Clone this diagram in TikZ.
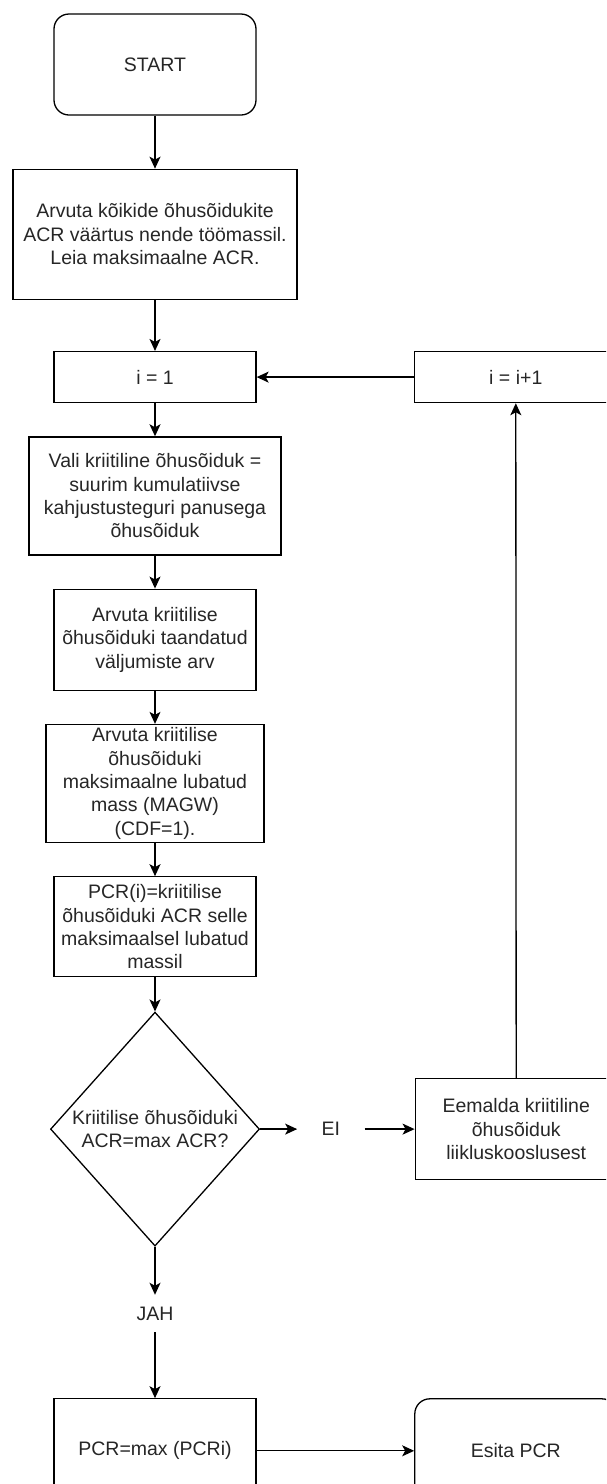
\documentclass[tikz,border=0pt]{standalone}
\usepackage{fontspec}
\setmainfont{Liberation Sans}
\usepackage{tikz}
\usetikzlibrary{arrows.meta, positioning, shapes.geometric}

\begin{document}
\begin{tikzpicture}[
  x=1pt, y=-1pt,
  font=\fontsize{19.5}{23.3}\selectfont,
  box/.style      = {rectangle, draw, line width=1.3pt, text=black!85,
                     minimum width=202pt, align=center, inner sep=2pt},
  term/.style     = {box, rounded corners=15pt},
  decision/.style = {diamond, draw, line width=1.3pt, inner sep=0pt,
                     minimum width=209pt, minimum height=234pt},
  lbl/.style      = {align=center, inner sep=0pt, text=black!85},
  arr/.style      = {-{Stealth[length=12pt, width=11pt, inset=3pt]}, line width=1.3pt},
]
\useasboundingbox (0,0) rectangle (606,1484);
\clip (0,0) rectangle (606,1484);

\node[term, minimum height=101pt] (start) at (155,64.5) {START};
\node[box, below=53pt of start, minimum width=284pt, minimum height=130pt] (acr)
  {Arvuta kõikide õhusõidukite\\ACR väärtus nende töömassil.\\Leia maksimaalne ACR.};
\node[box, below=51pt of acr, minimum height=51pt] (init) {i = 1};
\node[box, below=33pt of init, minimum width=252pt, minimum height=118pt] (crit)
  {Vali kriitiline õhusõiduk =\\suurim kumulatiivse\\kahjustusteguri panusega\\õhusõiduk};
\node[box, below=33pt of crit, minimum height=101pt] (dep)
  {Arvuta kriitilise\\õhusõiduki taandatud\\väljumiste arv};
\node[box, below=33pt of dep, minimum width=218pt, minimum height=118pt] (magw)
  {Arvuta kriitilise\\õhusõiduki\\maksimaalne lubatud\\mass (MAGW)\\(CDF=1).};
\node[box, below=33pt of magw, minimum height=100pt] (pcri)
  {PCR(i)=kriitilise\\õhusõiduki ACR selle\\maksimaalsel lubatud\\massil};
\node[decision, below=34pt of pcri,
      label={[lbl]center:Kriitilise õhusõiduki\\ACR=max ACR?}] (check) {};
\node[lbl, right=37pt of check, minimum width=67pt, minimum height=30pt] (no) {EI};
\node[box, right=50pt of no, minimum height=101pt] (remove)
  {Eemalda kriitiline\\õhusõiduk\\liikluskooslusest};
\node[box, right=157.5pt of init, minimum height=51pt] (incr) {i = i+1};
\node[lbl, below=48pt of check, minimum width=60pt, minimum height=37pt] (yes) {JAH};
\node[box, below=66pt of yes, minimum height=104pt] (pcrmax) {PCR=max (PCRi)};
\node[term, right=157.5pt of pcrmax, minimum height=104pt] (result) {Esita PCR};

\draw[arr] (start) -- (acr);
\draw[arr] (acr)   -- (init);
\draw[arr] (init)  -- (crit);
\draw[arr] (crit)  -- (dep);
\draw[arr] (dep)   -- (magw);
\draw[arr] (magw)  -- (pcri);
\draw[arr] (pcri.south) -- (check.north);
\draw[arr] (check.east) -- (no);
\draw[arr] (no)    -- (remove);
\draw[arr] (remove) -- (incr);
\draw[arr] (incr)  -- (init);
\draw[arr] (check.south) -- (yes);
\draw[arr] (yes)   -- (pcrmax);
\draw[arr] (pcrmax) -- (result);

\end{tikzpicture}
\end{document}
